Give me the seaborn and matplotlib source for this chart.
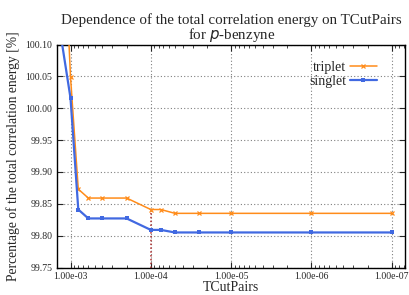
import matplotlib
matplotlib.use("Agg")
import matplotlib.pyplot as plt
import matplotlib.ticker as mticker
import seaborn as sns
import pandas as pd

# ---------------- Data ----------------
tcut = [2e-3, 1e-3, 8e-4, 6e-4, 4e-4, 2e-4, 1e-4, 7.5e-5, 5e-5, 2.5e-5, 1e-5, 1e-6, 1e-7]
triplet = [100.90, 100.049, 99.873, 99.859, 99.859, 99.859, 99.841, 99.841,
           99.835, 99.835, 99.835, 99.835, 99.835]
singlet = [100.26, 100.016, 99.841, 99.827, 99.827, 99.827, 99.809, 99.809,
           99.805, 99.805, 99.805, 99.805, 99.805]
xticks = [1e-3, 1e-4, 1e-5, 1e-6, 1e-7]
yticks = [99.75, 99.80, 99.85, 99.90, 99.95, 100.00, 100.05, 100.10]

df = pd.DataFrame({"tcut": tcut, "triplet": triplet, "singlet": singlet})

sns.set_style("ticks")
plt.rcParams["font.family"] = ["Liberation Serif", "DejaVu Serif"]

fig = plt.figure(figsize=(4.1, 2.95), dpi=100)
ax = fig.add_axes([57 / 410, 1 - 267.5 / 295, (405.5 - 57) / 410, (267.5 - 44.5) / 295])

# red dotted marker line at 1e-4
ax.vlines(tcut[6], yticks[0], triplet[6], colors="#b03030", linestyles=(0, (1, 1.5)),
          linewidth=1.1, zorder=1)

orange = "#ff8c1a"
blue = "#4169e1"
sns.lineplot(data=df, x="tcut", y="triplet", ax=ax, color=orange, marker="x",
             markersize=3, markeredgewidth=0.9, markeredgecolor=orange,
             linewidth=1.1, label="triplet", zorder=3)
sns.lineplot(data=df, x="tcut", y="singlet", ax=ax, color=blue, marker="s",
             markersize=3.5, markeredgewidth=0, markeredgecolor=blue,
             linewidth=1.6, label="singlet", zorder=4)

ax.set_xscale("log")
ax.set_xlim(10 ** (-3 + 13.5 / 80.3), 10 ** (-7 - 13.8 / 80.3))
ax.set_ylim(99.75, 100.10)
ax.set_xticks(xticks)
ax.xaxis.set_major_formatter(mticker.FuncFormatter(lambda v, p: f"{v:.2e}"))
ax.xaxis.set_minor_locator(mticker.LogLocator(base=10, subs=range(2, 10)))
ax.xaxis.set_minor_formatter(mticker.NullFormatter())
ax.set_yticks(yticks)
ax.yaxis.set_major_formatter(mticker.FormatStrFormatter("%.2f"))

ax.grid(True, which="major", color="#808080", linestyle=(0, (1, 2)), linewidth=0.8)
ax.tick_params(which="both", direction="in", top=True, right=True, labelsize=7)
ax.tick_params(which="major", length=4, width=0.8)
ax.tick_params(which="minor", length=2, width=0.6)
for s in ax.spines.values():
    s.set_linewidth(1.0)
    s.set_color("black")

ax.set_xlabel("TCutPairs", fontsize=10, labelpad=0)
ax.set_ylabel("Percentage of the total correlation energy [%]", fontsize=9.8, labelpad=4)
ax.set_title("Dependence of the total correlation energy on TCutPairs\nfor $\\mathit{p}$-benzyne",
             fontsize=10.8, linespacing=0.95, pad=4)

leg = ax.legend(loc="upper right", bbox_to_anchor=(0.945, 0.97), frameon=False,
                markerfirst=False, fontsize=10, handlelength=1.9, handletextpad=0.3,
                labelspacing=0.05, borderpad=0.2)
for t in leg.get_texts():
    t.set_ha("right")

fig.savefig("out.png", dpi=100)
